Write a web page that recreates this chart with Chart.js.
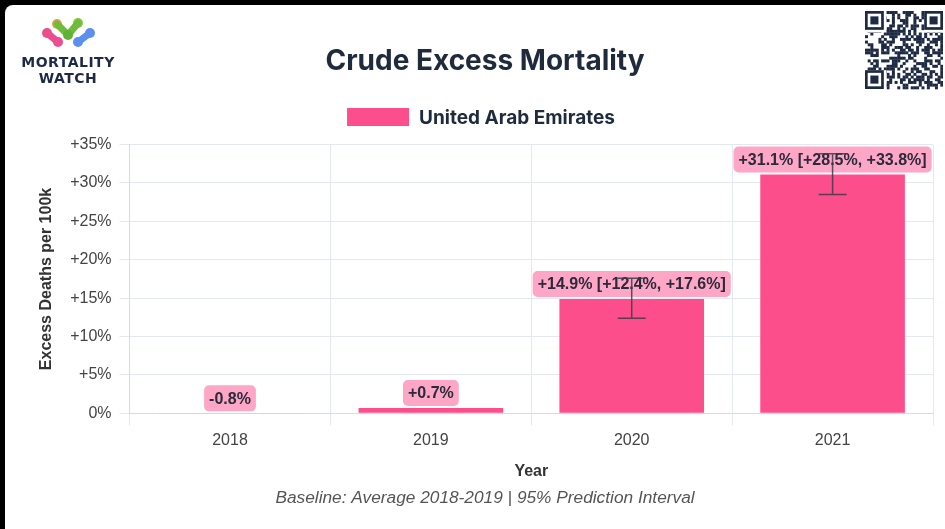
<!DOCTYPE html>
<html>
<head>
<meta charset="utf-8">
<script src="https://cdn.jsdelivr.net/npm/chart.js@4"></script>
<style>
  html, body { margin: 0; padding: 0; background: #000; width: 945px; height: 529px; overflow: hidden; }
  #panel { position: absolute; left: 5px; top: 5px; width: 940px; height: 524px; background: #fff; border-top-left-radius: 8px; }
  #wrap { position: absolute; left: 15px; top: 0; width: 930px; height: 529px; }
  #logo { position: absolute; left: 10px; top: 10px; }
  #qr { position: absolute; left: 865px; top: 11px; }
</style>
</head>
<body>
<div id="panel"></div>
<canvas id="logo" width="120" height="80"></canvas>
<canvas id="qr" width="78" height="82"></canvas>
<div id="wrap"><canvas id="chart"></canvas></div>
<script>
const years = ["2018", "2019", "2020", "2021"];
const excess = [-0.8, 0.7, 14.9, 31.1];
const piLower = [null, null, 12.4, 28.5];
const piUpper = [null, null, 17.6, 33.8];
const yTicks = [0, 5, 10, 15, 20, 25, 30, 35];

const pink = "#fd4e8c";
const fmt = v => (v > 0 ? "+" : "") + v.toFixed(1) + "%";

// logo
(function () {
  const c = document.getElementById("logo").getContext("2d");
  const dot = (x, y, r, col) => { c.fillStyle = col; c.beginPath(); c.arc(x, y, r, 0, Math.PI * 2); c.fill(); };
  const bond = (x1, y1, x2, y2, col) => { c.strokeStyle = col; c.lineWidth = 7; c.lineCap = "round"; c.beginPath(); c.moveTo(x1, y1); c.lineTo(x2, y2); c.stroke(); };
  bond(37, 23, 48, 32, "#ec4d8f");
  dot(37, 23, 5, "#ec4d8f");
  dot(47, 14, 5, "#f59a4a");
  bond(47, 14, 58, 25, "#6dbd3a");
  dot(68, 13, 5, "#8cc63f");
  bond(68, 13, 58, 25, "#6dbd3a");
  dot(58, 25, 5, "#5eb235");
  bond(68, 32, 80, 23, "#5b8ff0");
  dot(80, 23, 5, "#5b8ff0");
  dot(68, 32, 5, "#5b8ff0");
  dot(48, 32, 5, "#ec4d8f");
  c.fillStyle = "#1e2a44";
  c.font = "bold 14px 'DejaVu Sans'";
  c.textAlign = "center";
  c.letterSpacing = "0.5px";
  c.fillText("MORTALITY", 58, 57);
  c.fillText("WATCH", 58, 73);
})();

// qr-like badge
(function () {
  const c = document.getElementById("qr").getContext("2d");
  const n = 29, s = 78 / n;
  c.fillStyle = "#1e2a44";
  let h = 7;
  for (let r = 0; r < n; r++) {
    for (let q = 0; q < n; q++) {
      h = (h * 1103515245 + 12345) & 0x7fffffff;
      if ((h >> 16) & 1) c.fillRect(q * s, r * s, s + 0.3, s + 0.3);
    }
  }
  const finder = (x, y) => {
    c.fillStyle = "#fff"; c.fillRect(x * s, y * s, 8 * s, 8 * s);
    c.fillStyle = "#1e2a44"; c.fillRect(x * s, y * s, 7 * s, 7 * s);
    c.fillStyle = "#fff"; c.fillRect((x + 1) * s, (y + 1) * s, 5 * s, 5 * s);
    c.fillStyle = "#1e2a44"; c.fillRect((x + 2) * s, (y + 2) * s, 3 * s, 3 * s);
  };
  finder(0, 0); finder(n - 7, 0); finder(0, n - 7);
})();

// legend drawn by hand so it can sit in the gap under the title
const legendPlugin = {
  id: "topLegend",
  afterDraw(chart) {
    const ctx = chart.ctx;
    ctx.save();
    ctx.font = "bold 19px Inter";
    const label = chart.data.datasets[0].label;
    const tw = ctx.measureText(label).width;
    const total = 62 + 10 + tw;
    const x0 = chart.width / 2 - total / 2 + 1;
    const cy = 117;
    ctx.fillStyle = pink;
    ctx.fillRect(x0, cy - 9, 62, 18);
    ctx.fillStyle = "#1f2a3c";
    ctx.textBaseline = "middle";
    ctx.fillText(label, x0 + 72, cy + 1);
    ctx.restore();
  }
};

const labelPlugin = {
  id: "barLabels",
  afterDatasetsDraw(chart) {
    const ctx = chart.ctx;
    const y = chart.scales.y;
    const meta = chart.getDatasetMeta(0);
    ctx.save();
    ctx.font = "bold 16px 'Liberation Sans', Arial, sans-serif";
    ctx.textAlign = "center";
    ctx.textBaseline = "middle";
    excess.forEach((v, i) => {
      let txt = fmt(v);
      if (piLower[i] !== null) txt += " [" + fmt(piLower[i]) + ", " + fmt(piUpper[i]) + "]";
      const cx = meta.data[i].x;
      const cy = y.getPixelForValue(Math.max(v, 0)) - 15;
      const w = ctx.measureText(txt).width + 10;
      ctx.fillStyle = "rgba(252, 78, 141, 0.5)";
      ctx.beginPath();
      ctx.roundRect(cx - w / 2, cy - 13, w, 26, 5);
      ctx.fill();
      ctx.fillStyle = "#2a2a3a";
      ctx.fillText(txt, cx, cy + 1);
    });
    ctx.strokeStyle = "rgba(60, 60, 70, 0.85)";
    ctx.lineWidth = 1.5;
    excess.forEach((v, i) => {
      if (piLower[i] === null) return;
      const cx = meta.data[i].x;
      const yl = y.getPixelForValue(piLower[i]);
      const yh = y.getPixelForValue(piUpper[i]);
      ctx.beginPath();
      ctx.moveTo(cx, yh); ctx.lineTo(cx, yl);
      ctx.moveTo(cx - 14, yh); ctx.lineTo(cx + 14, yh);
      ctx.moveTo(cx - 14, yl); ctx.lineTo(cx + 14, yl);
      ctx.stroke();
    });
    ctx.restore();
  }
};

new Chart(document.getElementById("chart"), {
  type: "bar",
  data: {
    labels: years,
    datasets: [{
      label: "United Arab Emirates",
      data: excess,
      backgroundColor: pink,
      borderWidth: 0
    }]
  },
  plugins: [labelPlugin, legendPlugin],
  options: {
    responsive: true,
    maintainAspectRatio: false,
    animation: false,
    layout: { padding: { top: 35, left: 22, right: 12, bottom: 13 } },
    plugins: {
      tooltip: { enabled: false },
      legend: { display: false },
      title: {
        display: true,
        text: "Crude Excess Mortality",
        color: "#1f2a3c",
        font: { family: "Inter", size: 28, weight: "bold" },
        padding: { top: 10, bottom: 66 }
      },
      subtitle: {
        display: true,
        position: "bottom",
        text: "Baseline: Average 2018-2019 | 95% Prediction Interval",
        color: "#555",
        font: { family: "'Liberation Sans', Arial, sans-serif", size: 17.3, style: "italic" },
        padding: { top: 3, bottom: 7.5 }
      }
    },
    scales: {
      x: {
        grid: { color: "#e3e8f1", tickLength: 12, offset: true },
        border: { color: "#d5dce8" },
        ticks: { color: "#444", padding: 6, font: { family: "'Liberation Sans', Arial, sans-serif", size: 16 } },
        title: { display: true, text: "Year", color: "#333", padding: { top: 5, bottom: 4 }, font: { family: "'Liberation Sans', Arial, sans-serif", size: 16, weight: "bold" } }
      },
      y: {
        min: 0,
        max: 35,
        afterBuildTicks(s) { s.ticks = yTicks.map(v => ({ value: v })); },
        grid: { color: "#e3e8f1", tickLength: 10 },
        border: { color: "#d5dce8" },
        ticks: {
          color: "#444",
          padding: 8,
          font: { family: "'Liberation Sans', Arial, sans-serif", size: 16 },
          callback: v => (v === 0 ? "0%" : "+" + v + "%")
        },
        title: { display: true, text: "Excess Deaths per 100k", color: "#333", padding: { top: 0, bottom: 6 }, font: { family: "'Liberation Sans', Arial, sans-serif", size: 16, weight: "bold" } }
      }
    }
  }
});
</script>
</body>
</html>
